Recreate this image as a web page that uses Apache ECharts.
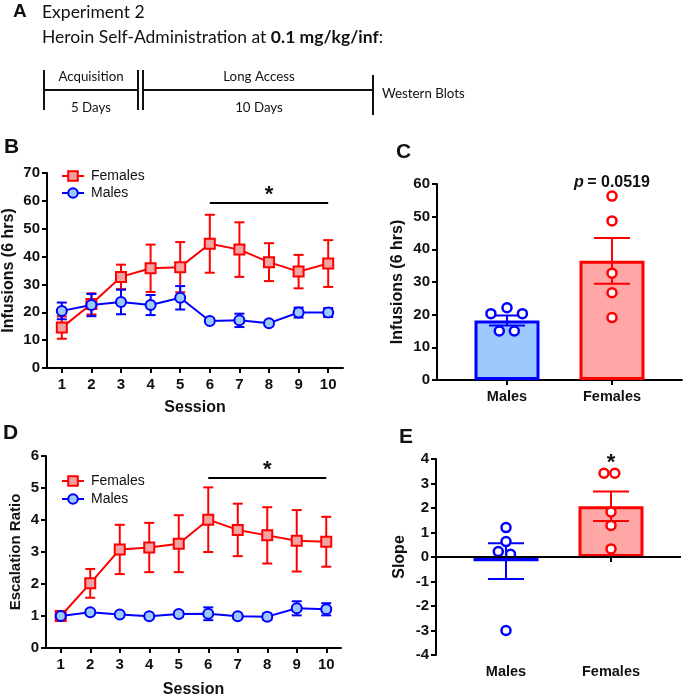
<!DOCTYPE html>
<html><head><meta charset="utf-8">
<script src="https://cdn.jsdelivr.net/npm/echarts@6/dist/echarts.min.js"></script>
<style>html,body{margin:0;padding:0;background:#fff}#c{width:685px;height:699px}</style>
</head><body><div id="c"></div>
<script>
// ---------- DATA ----------
const sessions = ['1','2','3','4','5','6','7','8','9','10'];
// Panel B: infusions (6 hrs)
const infFemales    = [14.5, 23.0, 32.7, 35.8, 36.2, 44.6, 42.5, 38.0, 34.6, 37.5];
const infFemalesSem = [4.0, 3.8, 4.4, 8.5, 9.0, 10.4, 9.8, 6.8, 6.0, 8.4];
const infMales      = [20.5, 22.6, 23.7, 22.6, 25.2, 16.9, 17.1, 16.1, 19.9, 19.9];
const infMalesSem   = [3.0, 4.0, 4.4, 3.6, 4.2, 0.8, 2.4, 0.7, 1.8, 1.6];
// Panel D: escalation ratio
const escFemales    = [1.0, 2.02, 3.08, 3.14, 3.26, 4.01, 3.69, 3.52, 3.35, 3.32];
const escFemalesSem = [0, 0.45, 0.77, 0.77, 0.89, 1.01, 0.82, 0.88, 0.96, 0.78];
const escMales      = [1.0, 1.12, 1.05, 0.99, 1.06, 1.07, 0.99, 0.98, 1.24, 1.21];
const escMalesSem   = [0, 0.05, 0.04, 0.03, 0.08, 0.2, 0.03, 0.1, 0.22, 0.19];
// Panel C / E groups
const groups = ['Males', 'Females'];
const groupX = [2, 5];
const infBarMean = [18.2, 36.5];
const infBarSem  = [1.55, 7.0];
const infDotsMales   = [[1.54, 20.3], [2.0, 22.1], [2.44, 20.3], [1.78, 15.0], [2.21, 15.0]];
const infDotsFemales = [[5, 56.3], [5, 48.7], [5, 32.7], [5, 26.7], [5, 19.1]];
const slopeBarMean = [-0.17, 2.07];
const slopeBarSem  = [0.73, 0.60];
const slopeDotsMales   = [[2, 1.2], [2, 0.63], [1.78, 0.22], [2.13, 0.11], [2, -3.0]];
const slopeDotsFemales = [[4.8, 3.42], [5.11, 3.42], [5, 1.84], [5, 1.29], [5, 0.33]];
const sigB = {from: '6', to: '10', y: 59.2};
const sigD = {from: '6', to: '10', y: 5.33};
const pText = {x: 5, y: 60.3, text: '0.0519'};
const starE = {x: 5, y: 3.85};

// ---------- STYLE ----------
const RED = '#ff0000', BLUE = '#0000ff';
const PINK = '#f4a3a3', LBLUE = '#9ccaff';
const FONT = 'Liberation Sans';
const axLine = {show: true, onZero: false, lineStyle: {color: '#000', width: 2}};
const axTick = {show: true, length: 5, lineStyle: {color: '#000', width: 2}};
const lblStyle = {fontSize: 15, fontWeight: 'bold', color: '#111', fontFamily: FONT};
const nameStyle = {fontSize: 16, fontWeight: 'bold', color: '#111', fontFamily: FONT};

function errSeries(xi, yi, data, color, capW, z) {
  return {
    type: 'custom', xAxisIndex: xi, yAxisIndex: yi, z: z, silent: true, data: data,
    renderItem: function (params, api) {
      const x = api.value(0), m = api.value(1), e = api.value(2);
      if (!e) return {type: 'group', children: []};
      const t = api.coord([x, m + e]), b = api.coord([x, m - e]);
      const h = capW / 2;
      const st = {stroke: color, lineWidth: 2};
      return {type: 'group', children: [
        {type: 'line', shape: {x1: t[0], y1: t[1], x2: b[0], y2: b[1]}, style: st},
        {type: 'line', shape: {x1: t[0] - h, y1: t[1], x2: t[0] + h, y2: t[1]}, style: st},
        {type: 'line', shape: {x1: b[0] - h, y1: b[1], x2: b[0] + h, y2: b[1]}, style: st}
      ]};
    }
  };
}
const idx = arr => arr.map((v, i) => [i, v]);
const withErr = (m, s) => m.map((v, i) => [i, v, s[i]]);
const barErr = (m, s) => m.map((v, i) => [groupX[i], v, s[i]]);

function sigLine(s) {
  return {
    silent: true, symbol: 'none', animation: false,
    lineStyle: {color: '#000', width: 2, type: 'solid'},
    label: {show: true, position: 'middle', formatter: '*', fontSize: 22, fontWeight: 'bold', color: '#111', distance: -3},
    data: [[{coord: [s.from, s.y]}, {coord: [s.to, s.y]}]]
  };
}

function lineSeries(name, xi, yi, data, color, fill, symbol, size, z, mark) {
  const o = {
    name: name, type: 'line', xAxisIndex: xi, yAxisIndex: yi, data: data, z: z,
    symbol: symbol, symbolSize: size, showAllSymbol: true,
    lineStyle: {color: color, width: 2},
    itemStyle: {color: fill, borderColor: color, borderWidth: 2},
    emphasis: {disabled: true}
  };
  if (mark) o.markLine = mark;
  return o;
}

function dots(xi, yi, data, color) {
  return {type: 'scatter', xAxisIndex: xi, yAxisIndex: yi, z: 4, symbol: 'circle', symbolSize: 9, silent: true,
    itemStyle: {color: '#fff', borderColor: color, borderWidth: 2.5, opacity: 1}, data: data};
}

function textMark(xi, yi, pt, label) {
  return {type: 'scatter', xAxisIndex: xi, yAxisIndex: yi, z: 5, symbolSize: 1, silent: true, clip: false,
    itemStyle: {color: 'rgba(0,0,0,0)', opacity: 1}, data: [[pt.x, pt.y]],
    label: Object.assign({show: true, position: 'inside'}, label)};
}

const groupAxis = (gi) => ({
  type: 'value', gridIndex: gi, min: 0, max: 7,
  axisLine: gi === 1 ? axLine : {show: false},
  axisTick: Object.assign({customValues: groupX}, axTick),
  axisLabel: Object.assign({customValues: groupX, margin: 9,
    formatter: v => groups[groupX.indexOf(v)] || ''}, lblStyle, {fontSize: 14.5}),
  splitLine: {show: false}
});

const legendText = {fontSize: 14, color: '#111', fontFamily: FONT, padding: [0, 0, 0, 2]};

const option = {
  animation: false,
  textStyle: {fontFamily: FONT},
  grid: [
    {left: 47, top: 173, width: 296, height: 195},   // B
    {left: 437, top: 184, width: 245, height: 196},  // C
    {left: 46, top: 456, width: 295, height: 196},   // D
    {left: 436, top: 459, width: 245, height: 196}   // E
  ],
  legend: [
    {data: ['Females', 'Males'], orient: 'vertical', left: 56, top: 164, itemWidth: 22, itemHeight: 12, itemGap: 3,
     textStyle: legendText, selectedMode: false},
    {data: ['Females', 'Males'], orient: 'vertical', left: 56, top: 469, itemWidth: 22, itemHeight: 12, itemGap: 4,
     textStyle: legendText, selectedMode: false}
  ],
  xAxis: [
    {type: 'category', gridIndex: 0, data: sessions, boundaryGap: true, axisLine: axLine,
     axisTick: Object.assign({alignWithLabel: true}, axTick), axisLabel: Object.assign({margin: 9}, lblStyle),
     name: 'Session', nameLocation: 'middle', nameGap: 32, nameTextStyle: nameStyle},
    groupAxis(1),
    {type: 'category', gridIndex: 2, data: sessions, boundaryGap: true, axisLine: axLine,
     axisTick: Object.assign({alignWithLabel: true}, axTick), axisLabel: Object.assign({margin: 9}, lblStyle),
     name: 'Session', nameLocation: 'middle', nameGap: 34, nameTextStyle: nameStyle},
    groupAxis(3)
  ],
  yAxis: [
    {type: 'value', gridIndex: 0, min: 0, max: 70, interval: 10, axisLine: axLine, axisTick: axTick,
     axisLabel: Object.assign({margin: 7}, lblStyle), splitLine: {show: false},
     name: 'Infusions (6 hrs)', nameLocation: 'middle', nameGap: 30, nameTextStyle: nameStyle},
    {type: 'value', gridIndex: 1, min: 0, max: 60, interval: 10, axisLine: axLine, axisTick: axTick,
     axisLabel: Object.assign({margin: 7}, lblStyle), splitLine: {show: false},
     name: 'Infusions (6 hrs)', nameLocation: 'middle', nameGap: 31, nameTextStyle: nameStyle},
    {type: 'value', gridIndex: 2, min: 0, max: 6, interval: 1, axisLine: axLine, axisTick: axTick,
     axisLabel: Object.assign({margin: 7}, lblStyle), splitLine: {show: false},
     name: 'Escalation Ratio', nameLocation: 'middle', nameGap: 23, nameTextStyle: Object.assign({}, nameStyle, {fontSize: 15})},
    {type: 'value', gridIndex: 3, min: -4, max: 4, interval: 1, axisLine: axLine, axisTick: axTick,
     axisLabel: Object.assign({margin: 7}, lblStyle), splitLine: {show: false},
     name: 'Slope', nameLocation: 'middle', nameGap: 28, nameTextStyle: nameStyle}
  ],
  series: [
    // Panel B
    errSeries(0, 0, withErr(infFemales, infFemalesSem), RED, 10, 2),
    lineSeries('Females', 0, 0, idx(infFemales), RED, PINK, 'rect', 10, 3, sigLine(sigB)),
    errSeries(0, 0, withErr(infMales, infMalesSem), BLUE, 10, 4),
    lineSeries('Males', 0, 0, idx(infMales), BLUE, LBLUE, 'circle', 10, 5),
    // Panel D
    errSeries(2, 2, withErr(escFemales, escFemalesSem), RED, 10, 2),
    lineSeries('Females', 2, 2, idx(escFemales), RED, PINK, 'rect', 10, 3, sigLine(sigD)),
    errSeries(2, 2, withErr(escMales, escMalesSem), BLUE, 10, 4),
    lineSeries('Males', 2, 2, idx(escMales), BLUE, LBLUE, 'circle', 10, 5),
    // Panel C
    {type: 'bar', xAxisIndex: 1, yAxisIndex: 1, barWidth: 65, z: 2, silent: true,
     data: infBarMean.map((v, i) => ({value: [groupX[i], v],
       itemStyle: {color: i ? '#ffa6a6' : LBLUE, borderColor: i ? RED : BLUE, borderWidth: 3}}))},
    errSeries(1, 1, [barErr(infBarMean, infBarSem)[0]], BLUE, 36, 3),
    errSeries(1, 1, [barErr(infBarMean, infBarSem)[1]], RED, 36, 3),
    dots(1, 1, infDotsMales, BLUE),
    dots(1, 1, infDotsFemales, RED),
    textMark(1, 1, pText, {formatter: '{i|p} {b|= ' + pText.text + '}',
       rich: {i: {fontStyle: 'italic', fontWeight: 'bold', fontSize: 16, color: '#111', fontFamily: FONT},
              b: {fontWeight: 'bold', fontSize: 16, color: '#111', fontFamily: FONT}}}),
    // Panel E
    {type: 'bar', xAxisIndex: 3, yAxisIndex: 3, barWidth: 65, z: 2, silent: true,
     data: slopeBarMean.map((v, i) => ({value: [groupX[i], v],
       itemStyle: {color: i ? '#ffa6a6' : LBLUE, borderColor: i ? RED : BLUE, borderWidth: 3}})),
     markLine: {silent: true, symbol: 'none', label: {show: false}, z: 6,
       lineStyle: {color: '#000', width: 2, type: 'solid'}, data: [{yAxis: 0}]}},
    errSeries(3, 3, [barErr(slopeBarMean, slopeBarSem)[0]], BLUE, 36, 3),
    errSeries(3, 3, [barErr(slopeBarMean, slopeBarSem)[1]], RED, 36, 3),
    dots(3, 3, slopeDotsMales, BLUE),
    dots(3, 3, slopeDotsFemales, RED),
    textMark(3, 3, starE, {formatter: '*', fontSize: 22, fontWeight: 'bold', color: '#111'})
  ],
  graphic: [
    // panel letters
    {type: 'text', x: 13, y: 12, style: {text: 'A', font: 'bold 19px "Liberation Sans"', fill: '#111', verticalAlign: 'middle'}},
    {type: 'text', left: 4, top: 137, style: {text: 'B', font: 'bold 21px "Liberation Sans"', fill: '#111'}},
    {type: 'text', left: 396, top: 142, style: {text: 'C', font: 'bold 21px "Liberation Sans"', fill: '#111'}},
    {type: 'text', left: 3, top: 423, style: {text: 'D', font: 'bold 21px "Liberation Sans"', fill: '#111'}},
    {type: 'text', left: 399, top: 427, style: {text: 'E', font: 'bold 21px "Liberation Sans"', fill: '#111'}},
    // panel A heading
    {type: 'text', x: 42, y: 12, style: {text: 'Experiment 2', font: '17.5px Lato', fill: '#111', verticalAlign: 'middle'}},
    {type: 'text', x: 42, y: 37, style: {
      text: '{r|Heroin Self-Administration at }{b|0.1 mg/kg/inf}{r|:}', verticalAlign: 'middle',
      rich: {r: {font: '17.5px Lato', fill: '#111'}, b: {font: 'bold 17.5px Lato', fill: '#111'}}}},
    // timeline
    {type: 'line', shape: {x1: 44, y1: 90, x2: 138, y2: 90}, style: {stroke: '#111', lineWidth: 2}},
    {type: 'line', shape: {x1: 143, y1: 90, x2: 373, y2: 90}, style: {stroke: '#111', lineWidth: 2}},
    {type: 'line', shape: {x1: 44, y1: 70, x2: 44, y2: 110}, style: {stroke: '#111', lineWidth: 2}},
    {type: 'line', shape: {x1: 138, y1: 70, x2: 138, y2: 110}, style: {stroke: '#111', lineWidth: 2}},
    {type: 'line', shape: {x1: 143, y1: 70, x2: 143, y2: 110}, style: {stroke: '#111', lineWidth: 2}},
    {type: 'line', shape: {x1: 373, y1: 75, x2: 373, y2: 115}, style: {stroke: '#111', lineWidth: 2}},
    {type: 'text', x: 91, y: 77, style: {text: 'Acquisition', font: '13.3px Lato', fill: '#111', align: 'center', verticalAlign: 'middle'}},
    {type: 'text', x: 91, y: 108, style: {text: '5 Days', font: '13.3px Lato', fill: '#111', align: 'center', verticalAlign: 'middle'}},
    {type: 'text', x: 259, y: 77, style: {text: 'Long Access', font: '13.3px Lato', fill: '#111', align: 'center', verticalAlign: 'middle'}},
    {type: 'text', x: 259, y: 108, style: {text: '10 Days', font: '13.3px Lato', fill: '#111', align: 'center', verticalAlign: 'middle'}},
    {type: 'text', x: 382, y: 94, style: {text: 'Western Blots', font: '13.3px Lato', fill: '#111', align: 'left', verticalAlign: 'middle'}}
  ]
};
const chart = echarts.init(document.getElementById('c'), null, {renderer: 'canvas'});
chart.setOption(option);
</script></body></html>
